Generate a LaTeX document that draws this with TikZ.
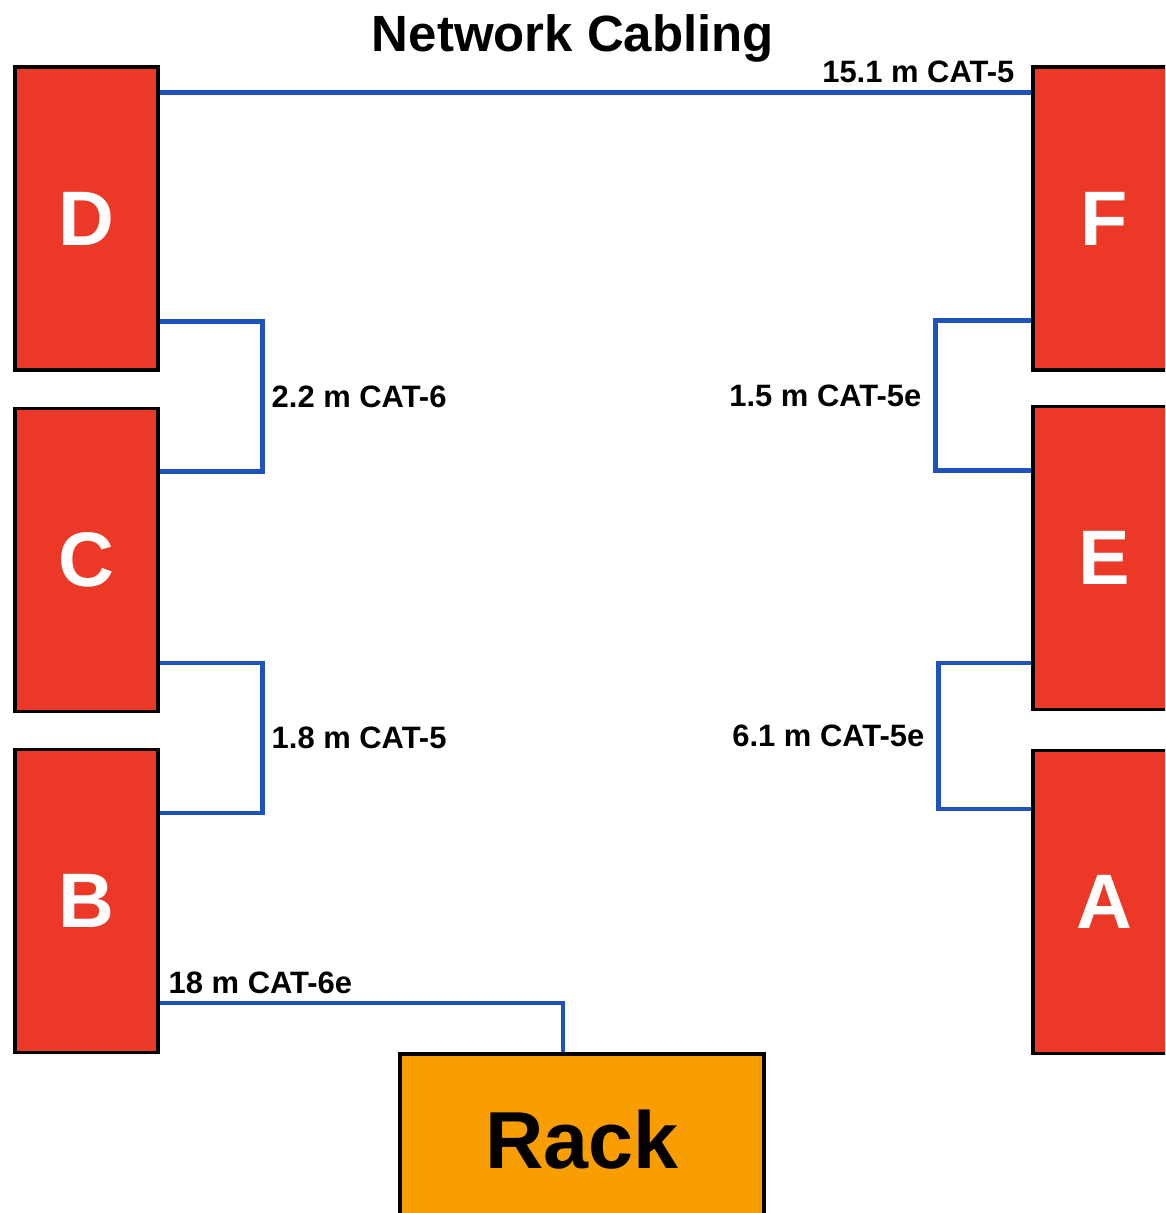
\documentclass[tikz,border=0pt]{standalone}
\usepackage{fontspec}
\setmainfont{Liberation Sans}
\definecolor{BoxRed}{RGB}{236, 56, 38}
\definecolor{RackOrange}{RGB}{248, 158, 0}
\definecolor{CableBlue}{RGB}{32, 82, 190}
\usetikzlibrary{positioning}

\begin{document}
\begin{tikzpicture}[node distance=0.35cm, auto]
        \tikzstyle{room} = [rectangle, draw=black, line width=0.9pt, fill=BoxRed,
            minimum width=1.43cm, minimum height=3.03cm, inner sep=0pt,
            text=white, font=\fontsize{22}{26}\selectfont\bfseries]
        \tikzstyle{rackbox} = [rectangle, draw=black, line width=0.9pt, fill=RackOrange,
            minimum width=3.64cm, minimum height=1.72cm, inner sep=0pt,
            font=\fontsize{23}{27}\selectfont\bfseries]
        \tikzstyle{cable} = [draw=CableBlue, line width=1.2pt]
        \tikzstyle{tag} = [font=\fontsize{8.8}{10}\selectfont\bfseries, inner sep=2pt]

        \useasboundingbox (0,0) rectangle (11.65,-12.13);
        \clip (0,0) rectangle (11.65,-12.13);

        \node [font=\fontsize{14.5}{17}\selectfont\bfseries] (title) at (5.73,-0.38) {Network Cabling};

        \node [room] (D) at (0.865,-2.185) {D};
        \node [room, below=of D] (C) {C};
        \node [room, below=of C] (B) {B};

        \node [room] (F) at (11.045,-2.185) {F};
        \node [room, below=0.33cm of F] (E) {E};
        \node [room, below=0.38cm of E] (A) {A};

        \node [rackbox] (rack) at (5.82,-11.40) {Rack};

        \path [cable] ([yshift=-0.27cm]D.north east) -- ([yshift=-0.27cm]F.north west)
            node [tag, pos=1, anchor=south east, xshift=-0.08cm] {15.1 m CAT-5};
        \path [cable] ([yshift=0.5cm]D.south east) -- ++(1.03,0)
            |- ([yshift=-0.65cm]C.north east) node [tag, pos=0.25, right] {2.2 m CAT-6};
        \path [cable] ([yshift=0.5cm]C.south east) -- ++(1.03,0)
            |- ([yshift=-0.65cm]B.north east) node [tag, pos=0.25, right] {1.8 m CAT-5};
        \path [cable] ([yshift=0.51cm]F.south west) -- ++(-0.96,0)
            |- ([yshift=-0.66cm]E.north west) node [tag, pos=0.25, left, xshift=-0.05cm] {1.5 m CAT-5e};
        \path [cable] ([yshift=0.48cm]E.south west) -- ++(-0.93,0)
            |- ([yshift=-0.6cm]A.north west) node [tag, pos=0.25, left, xshift=-0.05cm] {6.1 m CAT-5e};
        \path [cable] ([yshift=0.51cm]B.south east) -| ([xshift=-0.19cm]rack.north)
            node [tag, pos=0, anchor=south west] {18 m CAT-6e};
    \end{tikzpicture}
\end{document}
